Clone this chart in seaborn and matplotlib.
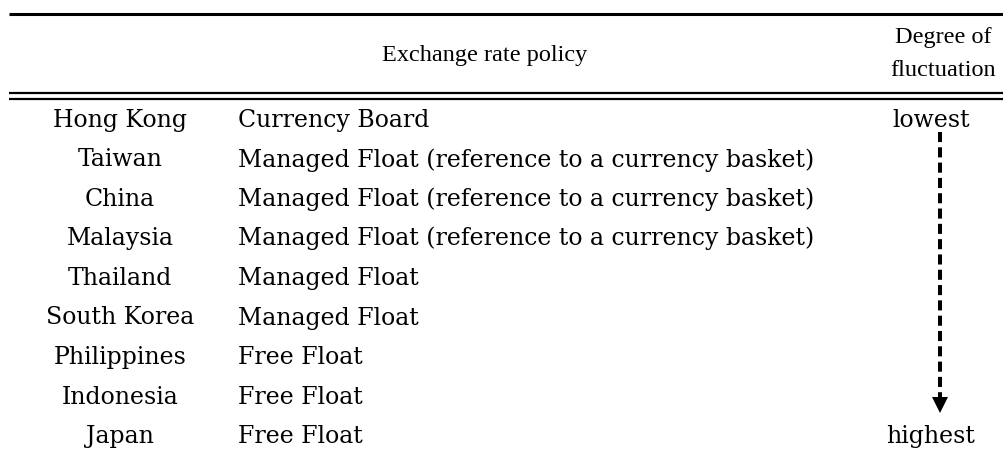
import matplotlib
matplotlib.use("Agg")  # headless-safe backend
import matplotlib.pyplot as plt
import seaborn as sns

# table content
countries = ["Hong Kong", "Taiwan", "China", "Malaysia", "Thailand",
             "South Korea", "Philippines", "Indonesia", "Japan"]
policies = [
    "Currency Board",
    "Managed Float (reference to a currency basket)",
    "Managed Float (reference to a currency basket)",
    "Managed Float (reference to a currency basket)",
    "Managed Float",
    "Managed Float",
    "Free Float",
    "Free Float",
    "Free Float",
]
header_policy = "Exchange rate policy"
header_degree = ["Degree of", "fluctuation"]
scale_ends = ["lowest", "highest"]

sns.set_theme(style="white")
plt.rcParams["font.family"] = ["DejaVu Serif"]
plt.rcParams["text.color"] = "black"

W, H = 1004, 449
fig = plt.figure(figsize=(W / 100, H / 100), dpi=100)
ax = fig.add_axes([0, 0, 1, 1])
ax.set_xlim(0, W)
ax.set_ylim(H, 0)
ax.axis("off")

FS = 17.0
HEAD_FONT = ["Liberation Serif", "DejaVu Serif"]
base0, step = 127, 39.5
rows_y = [base0 + i * step for i in range(len(countries))]

# rules
ax.plot([9, W], [13.5, 13.5], color="black", lw=2.2, solid_capstyle="butt")
ax.plot([9, W], [92.5, 92.5], color="black", lw=1.6, solid_capstyle="butt")
ax.plot([9, W], [99, 99], color="black", lw=1.6, solid_capstyle="butt")

# header
ax.text(485, 61, header_policy, ha="center", va="baseline",
        fontsize=17.5, family=HEAD_FONT)
for k, line in enumerate(header_degree):
    ax.text(943, 43 + k * 33, line, ha="center", va="baseline",
            fontsize=17.5, family=HEAD_FONT)

# body
for y, c, p in zip(rows_y, countries, policies):
    ax.text(120, y, c, ha="center", va="baseline", fontsize=FS)
    ax.text(238, y, p, ha="left", va="baseline", fontsize=FS)

ax.text(931, rows_y[0], scale_ends[0], ha="center", va="baseline", fontsize=FS)
ax.text(931, rows_y[-1], scale_ends[1], ha="center", va="baseline", fontsize=FS)

# dashed arrow lowest -> highest
x_arrow = 940
y_start = rows_y[0] + 5
y_end = rows_y[-1] - 46
ax.plot([x_arrow, x_arrow], [y_start, y_end], color="black", lw=2.9,
        linestyle=(0, (2.5, 1.3)), solid_capstyle="butt")
ax.plot([x_arrow], [y_end + 8], marker="v", markersize=11,
        color="black", markeredgewidth=0)

fig.savefig("out.png", dpi=100)
